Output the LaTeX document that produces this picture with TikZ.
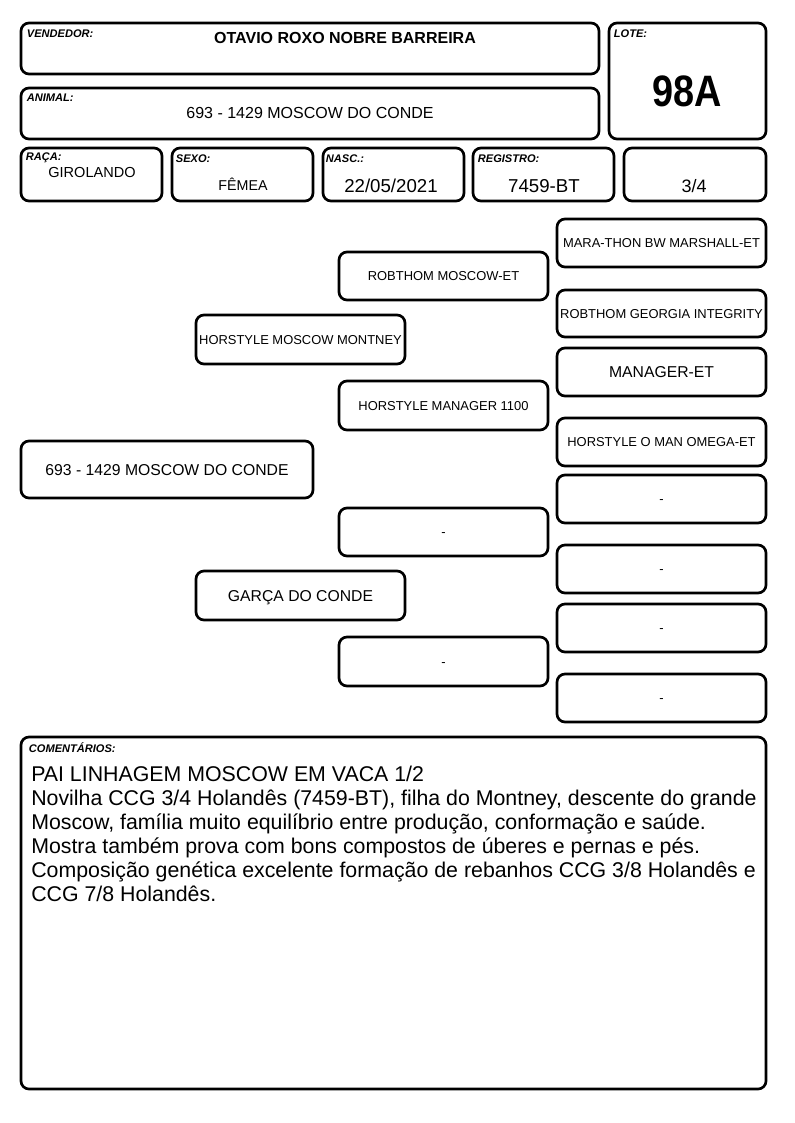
\documentclass[tikz,border=0pt]{standalone}
\usepackage{fontspec}
\setmainfont{Liberation Sans}
\usetikzlibrary{positioning}

\tikzset{
  cell/.style 2 args={draw, line width=2pt, rounded corners=6pt,
    minimum width=#1*0.75pt, minimum height=#2*0.75pt, inner sep=0pt, align=center},
  tag/.style={anchor=north west, inner sep=0pt, font=\fontsize{8.3}{9}\selectfont\bfseries\itshape},
  val/.style={inner sep=0pt},
  ped/.style={font=\fontsize{9.7}{11}\selectfont, text height=7pt, text depth=0pt},
  pedbig/.style={font=\fontsize{11.8}{13}\selectfont, text height=8.5pt, text depth=0pt},
}

\begin{document}
\begin{tikzpicture}[x=0.75pt,y=-0.75pt]
  \useasboundingbox (0,0) rectangle (794,1123);

  % header
  \node[cell={578}{51}] (vend) at (310,48.5) {};
  \node[cell={578}{51}] (anim) at (310,113.5) {};
  \node[cell={157}{116}] (lote) at (687.5,81) {};
  \node[cell={141}{53}] (raca) at (91.5,174.5) {};
  \node[cell={141}{53}] (sexo) at (242.5,174.5) {};
  \node[cell={141}{53}] (nasc) at (393.5,174.5) {};
  \node[cell={141}{53}] (regi) at (543.5,174.5) {};
  \node[cell={142}{53}] (frac) at (695,174.5) {};

  \node[tag] (vendtag) at ([shift={(7,8)}]vend.north west) {VENDEDOR:};
  \node[tag] (animtag) at ([shift={(7,7)}]anim.north west) {ANIMAL:};
  \node[tag] (lotetag) at ([shift={(6,8)}]lote.north west) {LOTE:};
  \node[tag] (racatag) at ([shift={(6,6)}]raca.north west) {RAÇA:};
  \node[tag] (sexotag) at ([shift={(5,8)}]sexo.north west) {SEXO:};
  \node[tag] (nasctag) at ([shift={(4,8)}]nasc.north west) {NASC.:};
  \node[tag] (regitag) at ([shift={(6,8)}]regi.north west) {REGISTRO:};

  \node[val,font=\fontsize{12}{14}\selectfont\bfseries] (vendname) at (345,38) {OTAVIO ROXO NOBRE BARREIRA};
  \node[val,font=\fontsize{12}{14}\selectfont] (animname) at (310,113) {693 - 1429 MOSCOW DO CONDE};
  \node[val,font=\fontsize{33}{35}\selectfont\bfseries,xscale=0.86] (lotenum) at (687.5,91.5) {98A};
  \node[val,font=\fontsize{10.9}{12}\selectfont] (racaval) at (92,172) {GIROLANDO};
  \node[val,font=\fontsize{10.7}{12}\selectfont] (sexoval) at (243,184) {FÊMEA};
  \node[val,font=\fontsize{14}{16}\selectfont] (nascval) at (391,186) {22/05/2021};
  \node[val,font=\fontsize{14}{16}\selectfont] (regival) at (544,186) {7459-BT};
  \node[val,font=\fontsize{13.5}{15}\selectfont] (fracval) at (694,186) {3/4};

  % pedigree
  \node[cell={292}{57},pedbig] (root) at (167,469.5) {693 - 1429 MOSCOW DO CONDE};
  \node[cell={209}{49},ped] (sire) at (300.5,339.5) {HORSTYLE MOSCOW MONTNEY};
  \node[cell={209}{49},pedbig] (dam) at (300.5,595.5) {GARÇA DO CONDE};
  \node[cell={209}{48},ped] (ss) at (443.5,276) {ROBTHOM MOSCOW-ET};
  \node[cell={209}{49},ped] (sd) at (443.5,405.5) {HORSTYLE MANAGER 1100};
  \node[cell={209}{48},ped] (ds) at (443.5,532) {-};
  \node[cell={209}{49},ped] (dd) at (443.5,661.5) {-};
  \node[cell={209}{48},ped] (sss) at (661.5,243) {MARA-THON BW MARSHALL-ET};
  \node[cell={209}{47},ped] (ssd) at (661.5,313.5) {ROBTHOM GEORGIA INTEGRITY};
  \node[cell={209}{48},pedbig] (sds) at (661.5,372) {MANAGER-ET};
  \node[cell={209}{48},ped] (sdd) at (661.5,442) {HORSTYLE O MAN OMEGA-ET};
  \node[cell={209}{48},ped] (dss) at (661.5,499) {-};
  \node[cell={209}{48},ped] (dsd) at (661.5,569) {-};
  \node[cell={209}{48},ped] (dds) at (661.5,628) {-};
  \node[cell={209}{48},ped] (ddd) at (661.5,698) {-};

  % comments
  \node[cell={745}{352}] (com) at (393.5,913) {};
  \node[tag] (comtag) at ([shift={(9,7)}]com.north west) {COMENTÁRIOS:};
  \node[anchor=north west, inner sep=0pt, align=left, font=\fontsize{16}{18}\selectfont]
    (comtext) at (31,766) {PAI LINHAGEM MOSCOW EM VACA 1/2\\
    Novilha CCG 3/4 Holandês (7459-BT), filha do Montney, descente do grande\\
    Moscow, família muito equilíbrio entre produção, conformação e saúde.\\
    Mostra também prova com bons compostos de úberes e pernas e pés.\\
    Composição genética excelente formação de rebanhos CCG 3/8 Holandês e\\
    CCG 7/8 Holandês.};
\end{tikzpicture}
\end{document}
